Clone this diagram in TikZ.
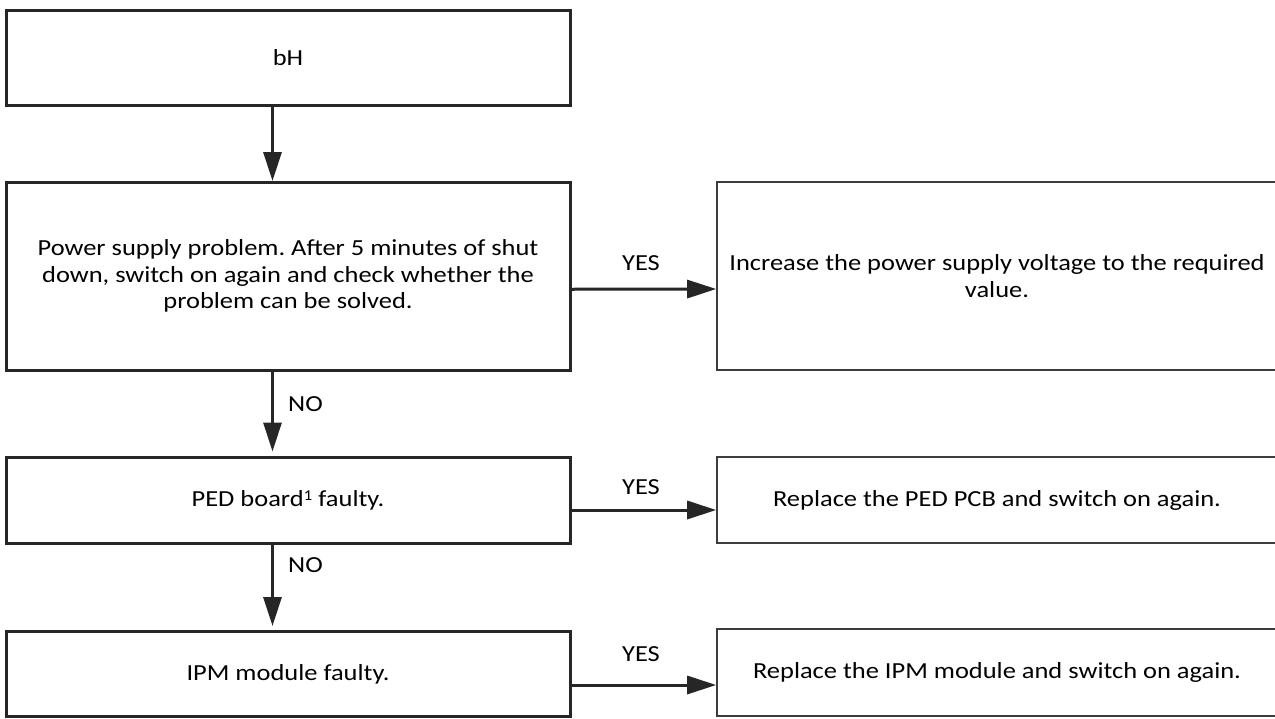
\documentclass[tikz,border=0pt]{standalone}
\usepackage{fontspec}
\setmainfont{Carlito}[FakeStretch=1.15]
\usetikzlibrary{arrows.meta}
\definecolor{lineC}{HTML}{262626}
\definecolor{thinC}{HTML}{3C3C3C}
\frenchspacing
\begin{document}
\begin{tikzpicture}[x=1pt,y=-1pt,
  lbox/.style={draw=lineC, line width=3pt, rectangle, minimum width=564pt, align=center, inner sep=0pt, font=\fontsize{23}{26.5}\selectfont},
  rbox/.style={draw=thinC, line width=1.6pt, rectangle, minimum width=560pt, align=center, inner sep=0pt, font=\fontsize{23}{26.5}\selectfont},
  arr/.style={draw=lineC, line width=3pt, -{Triangle[length=29pt,width=18pt]}},
  lbl/.style={font=\fontsize{23}{26.5}\selectfont, inner sep=0pt}
]
\useasboundingbox (0,0) rectangle (1275,718);
\fill[white] (0,0) rectangle (1275,718);

\node[lbox, minimum height=95.5pt] (bh) at (288,57.75) {bH};
\node[lbox, minimum height=187.5pt] (pw) at (288,276.25) {Power supply problem. After 5 minutes of shut\\down, switch on again and check whether the\\problem can be solved.};
\node[lbox, minimum height=86pt] (ped) at (288,500) {PED board{\fontsize{15}{15}\selectfont\raisebox{6pt}{1}} faulty.};
\node[lbox, minimum height=85pt] (ipm) at (288,674) {IPM module faulty.};

\node[rbox, minimum height=188pt] (r1) at (997,276) {Increase the power supply voltage to the required\\value.};
\node[rbox, minimum height=86pt] (r2) at (997,500) {Replace the PED PCB and switch on again.};
\node[rbox, minimum height=87pt] (r3) at (997,672.5) {Replace the IPM module and switch on again.};

\draw[arr] ([xshift=268pt]bh.south west) -- ([xshift=268pt]pw.north west);
\draw[arr] ([xshift=268pt]pw.south west) -- ([xshift=268pt,yshift=4pt]ped.north west);
\draw[arr] ([xshift=268pt]ped.south west) -- ([xshift=268pt,yshift=4pt]ipm.north west);

\draw[arr] ([yshift=-13pt]pw.east) -- ([yshift=-13pt]r1.west);
\draw[arr] ([yshift=-10pt]ped.east) -- ([yshift=-10pt]r2.west);
\draw[arr] ([yshift=-11pt]ipm.east) -- ([yshift=-11pt]ipm.east -| r3.west);

\node[lbl] (yes1) at (641,263) {YES};
\node[lbl] (yes2) at (641,487) {YES};
\node[lbl] (yes3) at (641,654) {YES};
\node[lbl, anchor=west] (no1) at (288,404) {NO};
\node[lbl, anchor=west] (no2) at (288,565) {NO};
\end{tikzpicture}
\end{document}
